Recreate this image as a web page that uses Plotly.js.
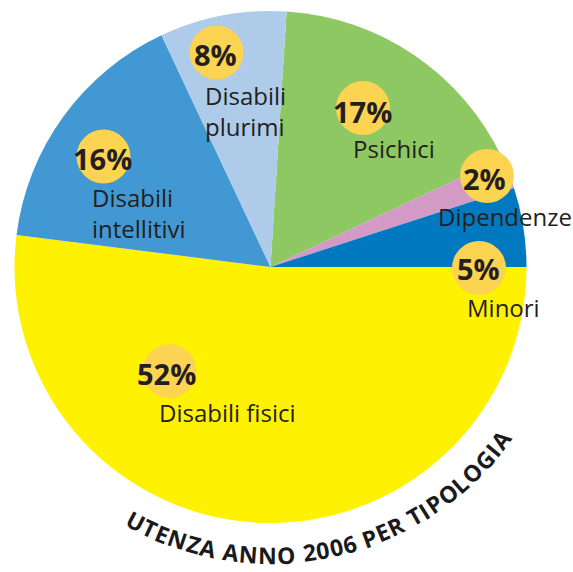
<!DOCTYPE html>
<html>
<head>
<meta charset="utf-8">
<script src="https://cdn.plot.ly/plotly-3.0.1.min.js"></script>
<style>
  html, body { margin: 0; padding: 0; background: #ffffff; }
  #chart { width: 573px; height: 572px; }
</style>
</head>
<body>
<div id="chart"></div>
<script>
// Data (clockwise from the top)
const categories = ['Psichici', 'Dipendenze', 'Minori', 'Disabili fisici', 'Disabili intellitivi', 'Disabili plurimi'];
const percentages = [17, 2, 5, 52, 16, 8];
const sliceColors = ['#8dc863', '#d49ac6', '#0079c1', '#fff200', '#4198d3', '#aecbea'];
const chartTitle = 'UTENZA ANNO 2006 PER TIPOLOGIA';

const W = 573, H = 572;
const px = x => x / W;
const py = y => 1 - y / H;

// pie geometry in pixels
const cx = 270.5, cy = 267, radius = 256;

// where the badges and labels sit, in pixels (same order as categories)
const badgePos = [[363, 108], [487, 176], [479, 268], [169.5, 371], [103.5, 156.5], [216.5, 52.5]];
const pctPos = [[362.5, 111], [484, 178], [478, 268], [166.5, 373], [102.5, 158], [215, 55]];
const labelPos = [
    { x: 394, y: 148, anchor: 'center' },
    { x: 505, y: 216, anchor: 'center' },
    { x: 503.5, y: 307.5, anchor: 'center' },
    { x: 227, y: 412.5, anchor: 'center' },
    { x: 90, y: 213, anchor: 'left' },
    { x: 203, y: 111, anchor: 'left' },
];

const textColor = '#231f20';
const badgeColor = '#fdd352';
const badgeR = 27;

const trace = {
    type: 'pie',
    labels: categories,
    values: percentages,
    sort: false,
    direction: 'clockwise',
    rotation: 3.6,
    marker: { colors: sliceColors, line: { width: 0 } },
    textinfo: 'none',
    hoverinfo: 'label+percent',
    showlegend: false,
    domain: { x: [px(cx - radius), px(cx + radius)], y: [py(cy + radius), py(cy - radius)] },
};

const shapes = badgePos.map(p => ({
    type: 'circle',
    xref: 'paper', yref: 'paper',
    x0: px(p[0] - badgeR), x1: px(p[0] + badgeR),
    y0: py(p[1] + badgeR), y1: py(p[1] - badgeR),
    fillcolor: badgeColor,
    line: { width: 0 },
    layer: 'above',
}));

const annotations = [];

// percentages
percentages.forEach((v, i) => {
    annotations.push({
        xref: 'paper', yref: 'paper',
        x: px(pctPos[i][0]), y: py(pctPos[i][1]),
        xanchor: 'center', yanchor: 'middle',
        text: v + '%',
        showarrow: false,
        font: { family: 'Open Sans', size: 29, weight: 700, color: textColor },
    });
});

// category names (two lines for intellitivi and plurimi)
categories.forEach((c, i) => {
    let t = c;
    if (c === 'Disabili intellitivi' || c === 'Disabili plurimi') t = c.replace(' ', '<br>');
    annotations.push({
        xref: 'paper', yref: 'paper',
        x: px(labelPos[i].x), y: py(labelPos[i].y),
        xanchor: labelPos[i].anchor, yanchor: 'middle',
        align: 'left',
        text: t,
        showarrow: false,
        font: { family: 'Open Sans', size: 24, color: textColor },
    });
});

// curved title below the pie, one character at a time along an arc
const charW = { U: .73, T: .59, E: .55, N: .78, Z: .59, A: .69, ' ': .26, O: .80, '2': .57, '0': .57, '6': .57, P: .63, R: .65, I: .33, L: .52, G: .73 };
const titleR = 288;
const startAng = 118, endAng = 37;
const chars = chartTitle.split('');
let acc = 0;
const centers = chars.map(ch => {
    const w = charW[ch] || .6;
    const c = acc + w / 2;
    acc += w;
    return c;
});
const first = centers[0], last = centers[centers.length - 1];
chars.forEach((ch, i) => {
    if (ch === ' ') return;
    const ang = startAng + (centers[i] - first) / (last - first) * (endAng - startAng);
    const rad = ang * Math.PI / 180;
    annotations.push({
        xref: 'paper', yref: 'paper',
        x: px(cx + titleR * Math.cos(rad)), y: py(cy + titleR * Math.sin(rad)),
        xanchor: 'center', yanchor: 'middle',
        text: ch,
        textangle: ang - 90,
        borderpad: 0,
        showarrow: false,
        font: { family: 'Open Sans', size: 23, weight: 700, color: '#1a1a1a' },
    });
});

const layout = {
    width: W,
    height: H,
    margin: { l: 0, r: 0, t: 0, b: 0 },
    paper_bgcolor: '#ffffff',
    showlegend: false,
    shapes: shapes,
    annotations: annotations,
};

Plotly.newPlot('chart', [trace], layout, { displayModeBar: false, staticPlot: true });
</script>
</body>
</html>
